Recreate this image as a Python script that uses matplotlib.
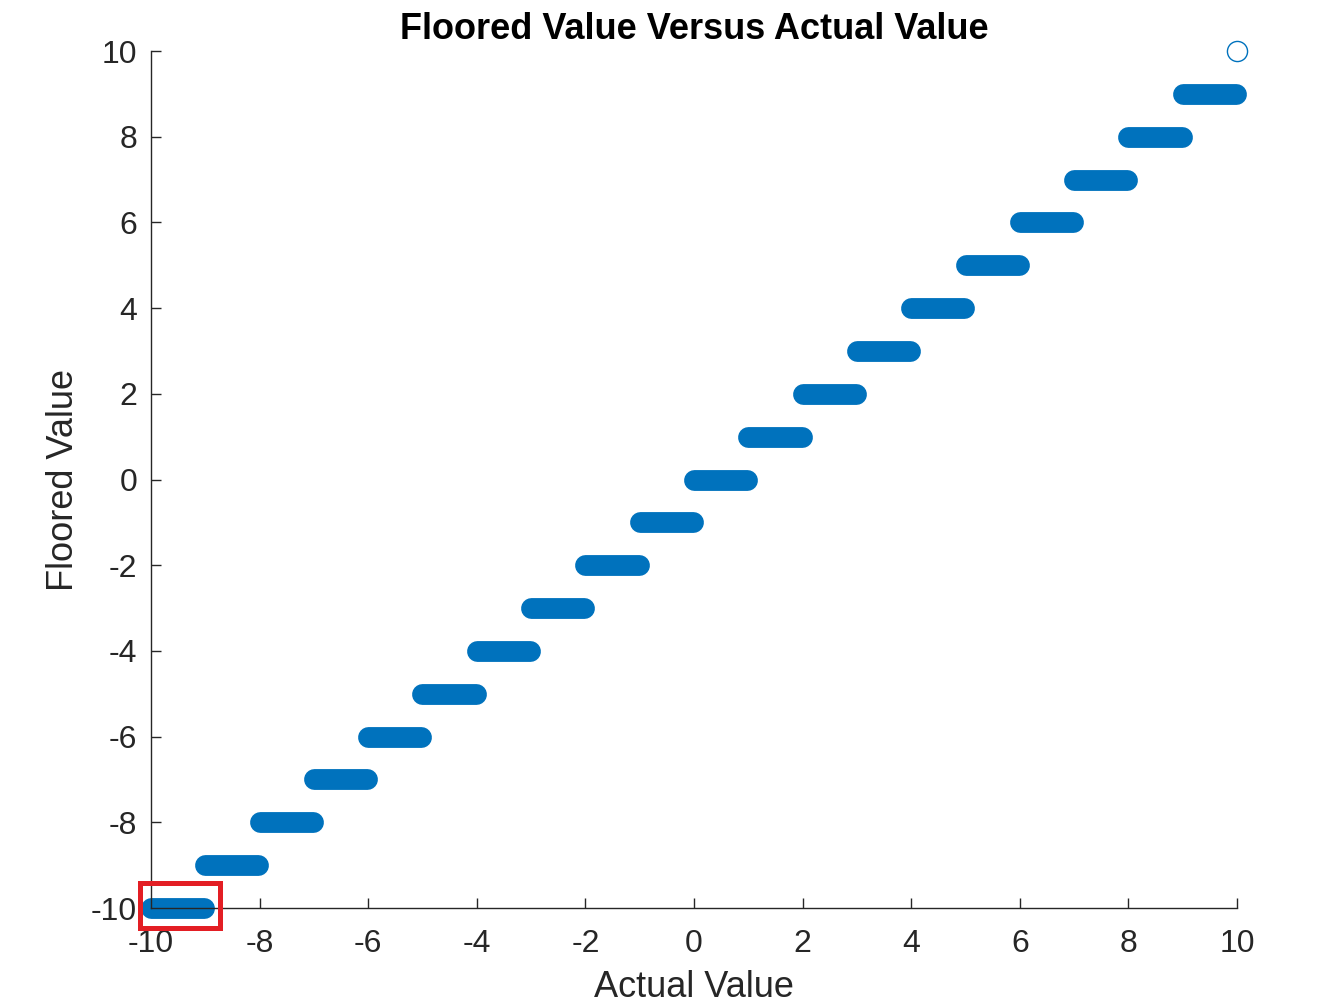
import matplotlib.pyplot as plt
from matplotlib.patches import Rectangle

# floor levels and the x-range of actual values that map onto each level
levels = [-10, -9, -8, -7, -6, -5, -4, -3, -2, -1, 0, 1, 2, 3, 4, 5, 6, 7, 8, 9]
x_start = [-10, -9, -8, -7, -6, -5, -4, -3, -2, -1, 0, 1, 2, 3, 4, 5, 6, 7, 8, 9]
x_end = [-9.02, -8.02, -7.02, -6.02, -5.02, -4.02, -3.02, -2.02, -1.02, -0.02,
         0.98, 1.98, 2.98, 3.98, 4.98, 5.98, 6.98, 7.98, 8.98, 9.98]
last_x = [10]
last_y = [10]
xticks = [-10, -8, -6, -4, -2, 0, 2, 4, 6, 8, 10]
yticks = [-10, -8, -6, -4, -2, 0, 2, 4, 6, 8, 10]

blue = '#0072BD'
axc = '#262626'
plt.rcParams['font.family'] = ['Liberation Sans', 'DejaVu Sans']
plt.rcParams['axes.unicode_minus'] = False

fig = plt.figure(figsize=(13.42, 10.08), dpi=100)
ax = fig.add_axes([0.1125, 0.0992, 0.8093, 0.8502])

for lv, a, b in zip(levels, x_start, x_end):
    ax.plot([a, b], [lv, lv], color=blue, lw=15, solid_capstyle='round', clip_on=False)
ax.plot(last_x, last_y, 'o', mfc='none', mec=blue, ms=14.5, mew=1.0, clip_on=False)

# highlight box round the first step
ax.add_patch(Rectangle((-10.21, -10.47), 1.475, 1.05, fill=False,
                       ec='#e31e24', lw=3.6, clip_on=False, zorder=5))

ax.set_xlim(-10, 10)
ax.set_ylim(-10, 10)
ax.set_xticks(xticks)
ax.set_yticks(yticks)
ax.spines['top'].set_visible(False)
ax.spines['right'].set_visible(False)
for s in ['left', 'bottom']:
    ax.spines[s].set_color(axc)
    ax.spines[s].set_linewidth(1.0)
ax.tick_params(direction='in', length=7.5, width=1.0, colors=axc, labelsize=23)
ax.tick_params(axis='x', pad=15)
ax.tick_params(axis='y', pad=10)
ax.set_xlabel('Actual Value', fontsize=26, color=axc, labelpad=8)
ax.set_ylabel('Floored Value', fontsize=26, color=axc, labelpad=7)
ax.set_title('Floored Value Versus Actual Value', fontsize=26, fontweight='bold', pad=9)

fig.savefig('out.png', dpi=100)
